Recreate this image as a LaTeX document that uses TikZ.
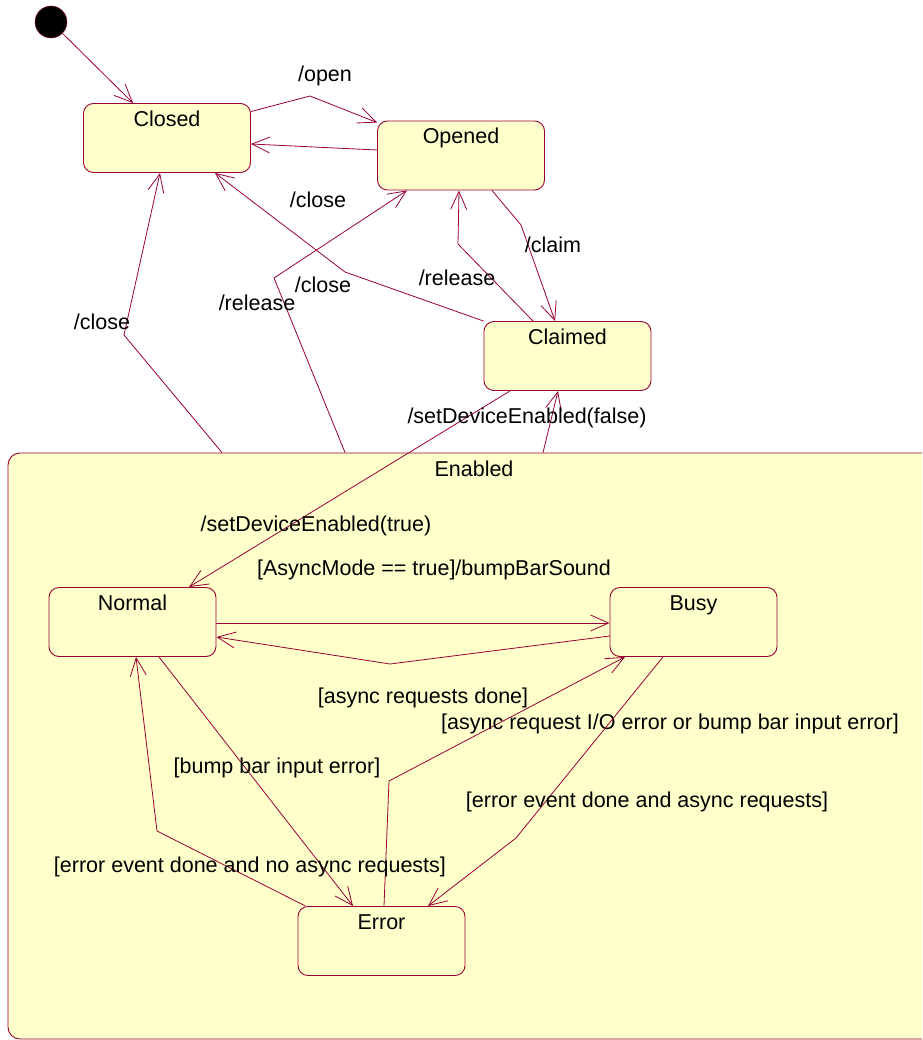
\documentclass[tikz,border=0pt]{standalone}
\usepackage{fontspec}
\setmainfont{Liberation Sans}
\usepackage{tikz}
\usetikzlibrary{arrows.meta}
\definecolor{roseyellow}{HTML}{FFFFCC}
\definecolor{rosered}{HTML}{990033}
\tikzstyle{sblock} = [rectangle, draw=rosered, fill=roseyellow, line width=0.9pt,
rounded corners=10pt, minimum width=167pt, minimum height=69pt,
text height=16pt, text depth=39pt, inner ysep=7pt, inner xsep=0pt]
\tikzstyle{superblock} = [rectangle, draw=rosered, fill=roseyellow, line width=0.9pt,
rounded corners=12pt, minimum width=932pt, minimum height=586pt,
text height=16pt, text depth=556pt, inner ysep=7pt, inner xsep=0pt]
\tikzstyle{startdot} = [circle, draw=rosered, fill=black, minimum size=32pt, inner sep=0pt]
\tikzstyle{lbl} = [inner sep=0pt, text=black]
\tikzstyle{arrow} = [draw=rosered, line width=0.8pt, -{Straight Barb[length=18pt,width=16pt]}]

\begin{document}
\begin{tikzpicture}[x=1pt, y=-1pt]
    \tikzstyle{every node}=[font=\fontsize{21.5}{25}\selectfont]
    \clip (0,0) rectangle (922,1040);
        \node (enabled) [superblock] at (474,746) {Enabled};
        \node (start) [startdot] at (51,22) {};
        \node (closed) [sblock] at (167,138) {Closed};
        \node (opened) [sblock] at (461,155.5) {Opened};
        \node (claimed) [sblock] at (567.5,356) {Claimed};
        \node (normal) [sblock] at (132.5,622) {Normal};
        \node (busy) [sblock] at (693.5,622) {Busy};
        \node (error) [sblock] at (381.5,941) {Error};

        \draw [arrow] (start) -- ([xshift=-34pt]closed.north);
        \draw [arrow] ([yshift=-8.5pt]closed.north east) -- (310,96) -- ([yshift=-2pt]opened.north west)
            node (lopen) [lbl] at (325,76) {/open};
        \draw [arrow] ([yshift=5.5pt]opened.west) -- ([yshift=-6pt]closed.east)
            node (lclosea) [lbl] at (318,200) {/close};
        \draw [arrow] (claimed.north west) -- (345,272) -- ([xshift=48pt]closed.south)
            node (lcloseb) [lbl] at (323,285) {/close};
        \draw [arrow] ([xshift=-252pt]enabled.north) -- (124,335) -- ([xshift=-7pt]closed.south)
            node (lclosec) [lbl] at (102,322) {/close};
        \draw [arrow] ([xshift=-129pt]enabled.north) -- (274,278) -- ([xshift=-54pt]opened.south)
            node (lreleasea) [lbl] at (257,303) {/release};
        \draw [arrow] ([xshift=-34.5pt]claimed.north) -- (458,244) -- ([xshift=-2pt]opened.south)
            node (lreleaseb) [lbl] at (457,278) {/release};
        \draw [arrow] ([xshift=31pt]opened.south) -- (521,225) -- ([xshift=-12.5pt]claimed.north)
            node (lclaim) [lbl] at (553,245) {/claim};
        \draw [arrow] ([xshift=-57.5pt]claimed.south) -- ([xshift=56.5pt]normal.north)
            node (lenable) [lbl] at (316,526) {/setDeviceEnabled(true)};
        \draw [arrow] ([xshift=69pt]enabled.north) -- ([xshift=-9.5pt]claimed.south)
            node (ldisable) [lbl] at (527,418) {/setDeviceEnabled(false)};
        %transitions inside Enabled
        \draw [arrow] ([yshift=-1pt]normal.east) -- ([yshift=-1pt]busy.west)
            node (lasync) [lbl] at (434,570) {[AsyncMode == true]/bumpBarSound};
        \draw [arrow] ([yshift=-14pt]busy.west) -- (390,664) -- ([yshift=-15pt]normal.east)
            node (ldone) [lbl] at (423,698) {[async requests done]};
        \draw [arrow] ([xshift=26.5pt]normal.south) -- ([xshift=-28.5pt]error.north)
            node (lbump) [lbl] at (277,768) {[bump bar input error]};
        \draw [arrow] ([xshift=2.5pt]error.north) -- (389,781) -- ([xshift=-68.5pt]busy.south)
            node (lioerr) [lbl] at (670,724) {[async request I/O error or bump bar input error]};
        \draw [arrow] ([xshift=-30.5pt]busy.south) -- (516,838) -- ([xshift=46.5pt]error.north)
            node (lerrbusy) [lbl] at (647,802) {[error event done and async requests]};
        \draw [arrow] ([xshift=8pt]error.north west) -- (157,831) -- ([xshift=3.5pt]normal.south)
            node (lerrnorm) [lbl] at (250,867) {[error event done and no async requests]};
\end{tikzpicture}
\end{document}
